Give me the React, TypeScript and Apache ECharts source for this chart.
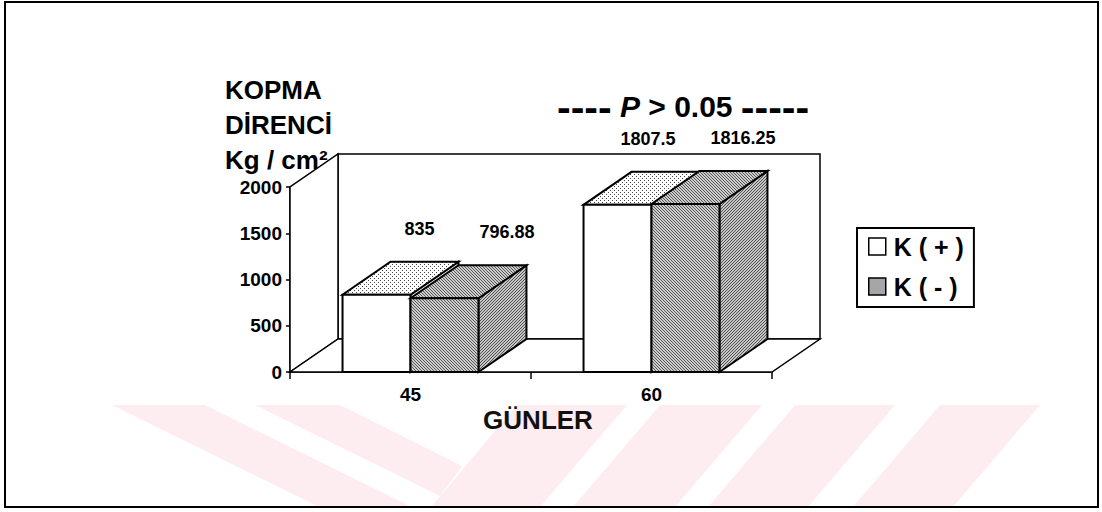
import React, { useEffect, useRef } from "react";
import * as echarts from "echarts";

// ---- data ----
const CATEGORIES = ["45", "60"];
const SERIES_NAMES = ["K ( + )", "K ( - )"];
const K_PLUS = [835, 1807.5];
const K_MINUS = [796.88, 1816.25];
const Y_MIN = 0;
const Y_MAX = 2000;
const Y_INTERVAL = 500;
const Y_TITLE = "KOPMA\nDİRENCİ\nKg / cm²";
const X_TITLE = "GÜNLER";

// ---- style ----
const FONT = "Arial, 'Liberation Sans', Helvetica, sans-serif";
const DX = 48;
const DY = -33;
const BAR_RATIO = 0.282;
const PINK = "#fdedf0";

function makePattern(size: number, bg: string, fg: string, pts: number[][]): any {
  const c = document.createElement("canvas");
  c.width = size;
  c.height = size;
  const ctx = c.getContext("2d");
  if (!ctx) return bg;
  ctx.fillStyle = bg;
  ctx.fillRect(0, 0, size, size);
  ctx.fillStyle = fg;
  pts.forEach(([x, y]) => ctx.fillRect(x, y, 1, 1));
  return { image: c, repeat: "repeat" };
}

type Faces = { front: any; top: any; side: any; labelShift: number; legend: string };

function buildFaces(): Faces[] {
  const dots = makePattern(4, "#ffffff", "#444444", [[0, 0], [2, 2]]);
  const hatchA = makePattern(3, "#cdcdcd", "#555555", [[0, 0], [1, 1], [2, 2]]);
  const hatchB = makePattern(3, "#c6c6c6", "#505050", [[2, 0], [1, 1], [0, 2]]);
  return [
    { front: "#ffffff", top: dots, side: "#ffffff", labelShift: 24, legend: "#ffffff" },
    { front: hatchA, top: hatchA, side: hatchB, labelShift: 56, legend: "#a6a6a6" },
  ];
}

function barRenderer(idx: number, faces: Faces[]) {
  const f = faces[idx];
  return (_params: any, api: any) => {
    const c = api.value(0);
    const v = api.value(1);
    const p0 = api.coord([c, 0]);
    const p1 = api.coord([c, v]);
    const band = api.size([1, 0])[0];
    const w = band * BAR_RATIO;
    const xl = p0[0] - w + idx * w;
    const xr = xl + w;
    const yb = p0[1];
    const yt = p1[1];
    const st = (fill: any) => ({ fill, stroke: "#000", lineWidth: 2, lineJoin: "miter" });
    return {
      type: "group",
      children: [
        {
          type: "polygon",
          shape: { points: [[xr, yb], [xr + DX, yb + DY], [xr + DX, yt + DY], [xr, yt]] },
          style: st(f.side),
        },
        {
          type: "polygon",
          shape: { points: [[xl, yt], [xr, yt], [xr + DX, yt + DY], [xl + DX, yt + DY]] },
          style: st(f.top),
        },
        {
          type: "polygon",
          shape: { points: [[xl, yb], [xr, yb], [xr, yt], [xl, yt]] },
          style: st(f.front),
        },
        {
          type: "text",
          x: xr + f.labelShift,
          y: yt - 66,
          style: {
            text: String(v),
            fill: "#000",
            fontSize: 18,
            fontWeight: "bold",
            fontFamily: FONT,
            align: "right",
            verticalAlign: "middle",
          },
        },
      ],
    };
  };
}

function frameRenderer(params: any) {
  const cs = params.coordSys;
  const x0 = cs.x;
  const x1 = cs.x + cs.width;
  const yt = cs.y;
  const yb = cs.y + cs.height;
  const ls = { fill: "#fff", stroke: "#000", lineWidth: 1.5 };
  return {
    type: "group",
    children: [
      {
        type: "polygon",
        shape: { points: [[x0 + DX, yt + DY], [x1 + DX, yt + DY], [x1 + DX, yb + DY], [x0 + DX, yb + DY]] },
        style: ls,
      },
      {
        type: "polygon",
        shape: { points: [[x0, yb], [x0, yt], [x0 + DX, yt + DY], [x0 + DX, yb + DY]] },
        style: ls,
      },
      {
        type: "polygon",
        shape: { points: [[x0, yb], [x1, yb], [x1 + DX, yb + DY], [x0 + DX, yb + DY]] },
        style: ls,
      },
    ],
  };
}

const WATERMARK: number[][][] = [
  [[112, 405], [205, 405], [412, 507], [319, 507]],
  [[255, 405], [340, 405], [462, 466], [440, 496]],
  [[517, 405], [627, 405], [540, 507], [431, 507]],
  [[660, 405], [762, 405], [675, 507], [573, 507]],
  [[795, 405], [895, 405], [808, 507], [708, 507]],
  [[940, 405], [1040, 405], [953, 507], [853, 507]],
];

export default function App() {
  const ref = useRef<HTMLDivElement>(null);
  useEffect(() => {
    if (!ref.current) return;
    const faces = buildFaces();
    const chart = echarts.init(ref.current, undefined, { renderer: "svg" });
    const option: any = {
      animation: false,
      backgroundColor: "#fff",
      title: {
        text: "{a|----} {p|P} > 0.05 {a|-----}",
        left: 557,
        top: 86,
        padding: 0,
        textStyle: {
          fontSize: 30,
          fontWeight: "bold",
          fontFamily: FONT,
          color: "#000",
          rich: {
            a: { fontSize: 41, fontWeight: "bold", fontFamily: FONT, color: "#000" },
            p: { fontSize: 30, fontWeight: "bold", fontStyle: "italic", fontFamily: FONT, color: "#000" },
          },
        },
      },
      legend: {
        data: [
          { name: SERIES_NAMES[0], icon: "rect", itemStyle: { color: faces[0].legend } },
          { name: SERIES_NAMES[1], icon: "rect", itemStyle: { color: faces[1].legend } },
        ],
        orient: "vertical",
        left: 857,
        top: 228,
        itemWidth: 17,
        itemHeight: 17,
        itemGap: 15,
        padding: [6, 10, 8, 11],
        borderColor: "#000",
        borderWidth: 2,
        itemStyle: { borderColor: "#000", borderWidth: 1.5 },
        textStyle: { fontSize: 25, fontWeight: "bold", color: "#000", fontFamily: FONT, padding: [0, 0, 0, 3] },
      },
      grid: { left: 290, right: 330, top: 187, bottom: 140, containLabel: false },
      xAxis: {
        type: "category",
        data: CATEGORIES,
        axisLine: { show: true, lineStyle: { color: "#000", width: 1.5 } },
        axisTick: { show: true, length: 7, lineStyle: { color: "#000", width: 1.5 } },
        axisLabel: { fontSize: 19, fontWeight: "bold", color: "#000", fontFamily: FONT, margin: 13 },
        name: X_TITLE,
        nameLocation: "middle",
        nameGap: 35,
        nameTextStyle: { fontSize: 26, fontWeight: "bold", color: "#111", fontFamily: FONT, padding: [0, 0, 0, 14] },
      },
      yAxis: {
        type: "value",
        min: Y_MIN,
        max: Y_MAX,
        interval: Y_INTERVAL,
        splitLine: { show: false },
        axisLine: { show: true, lineStyle: { color: "#000", width: 1.5 } },
        axisTick: { show: true, length: 4, lineStyle: { color: "#000", width: 1.5 } },
        axisLabel: {
          fontSize: 19,
          fontWeight: "bold",
          color: "#000",
          fontFamily: FONT,
          margin: 8,
          formatter: (v: number) => String(v),
        },
      },
      graphic: [
        ...WATERMARK.map((pts) => ({
          type: "polygon",
          z: -10,
          silent: true,
          shape: { points: pts },
          style: { fill: PINK },
        })),
        {
          type: "rect",
          z: 100,
          silent: true,
          shape: { x: 5, y: 2, width: 1093, height: 505 },
          style: { fill: "none", stroke: "#000", lineWidth: 2 },
        },
        {
          type: "text",
          left: 225,
          top: 72,
          style: {
            text: Y_TITLE,
            fill: "#000",
            fontSize: 26,
            fontWeight: "bold",
            fontFamily: FONT,
            lineHeight: 35,
            align: "center",
          },
        },
      ],
      series: [
        {
          name: "frame",
          type: "custom",
          z: 1,
          silent: true,
          clip: false,
          renderItem: frameRenderer,
          data: [[0, 0]],
        },
        {
          name: SERIES_NAMES[0],
          type: "custom",
          z: 3,
          clip: false,
          itemStyle: { color: faces[0].legend },
          renderItem: barRenderer(0, faces),
          encode: { x: 0, y: 1 },
          data: K_PLUS.map((v, i) => [i, v]),
        },
        {
          name: SERIES_NAMES[1],
          type: "custom",
          z: 4,
          clip: false,
          itemStyle: { color: faces[1].legend },
          renderItem: barRenderer(1, faces),
          encode: { x: 0, y: 1 },
          data: K_MINUS.map((v, i) => [i, v]),
        },
      ],
    };
    chart.setOption(option);
    return () => chart.dispose();
  }, []);
  return (
    <div
      ref={ref}
      style={{ position: "absolute", left: 0, top: 0, width: 1102, height: 512, background: "#fff" }}
    />
  );
}
